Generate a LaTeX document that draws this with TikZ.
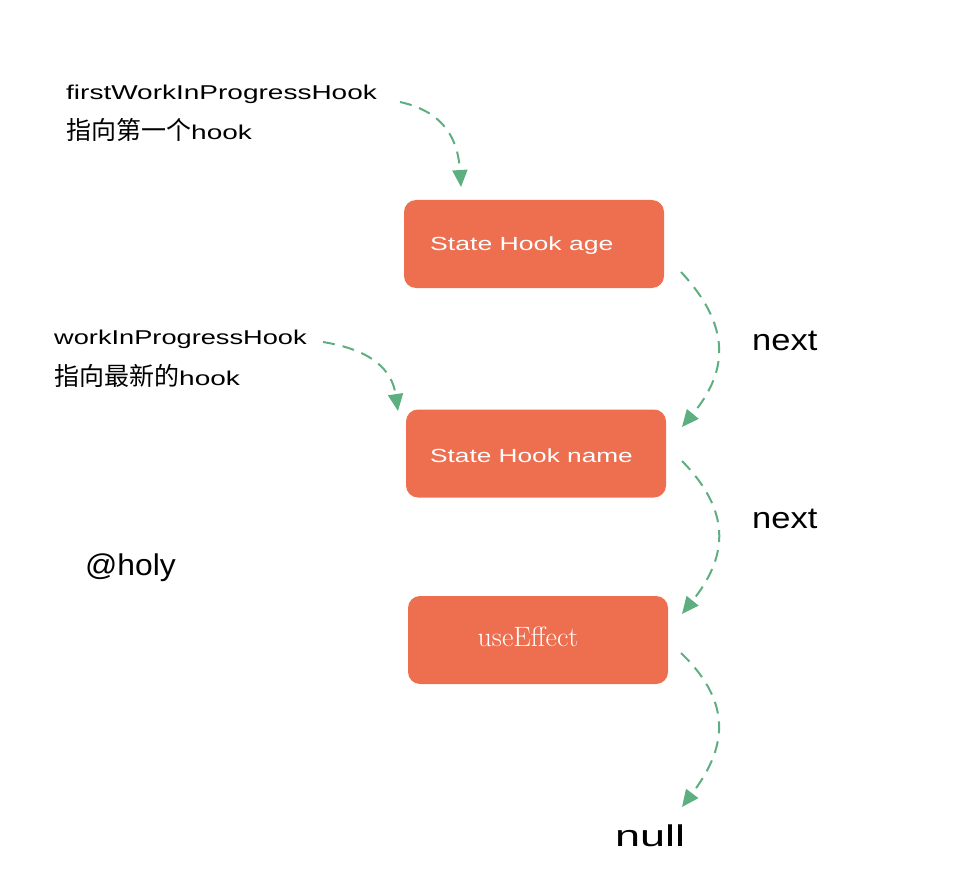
\documentclass[tikz,border=0pt]{standalone}
\usepackage{graphicx}
\usepackage{fontspec}
\setsansfont{Liberation Sans}
\newfontfamily\cjk{Noto Sans CJK SC}
\usetikzlibrary{arrows.meta}
\definecolor{boxred}{HTML}{EE6E50}
\definecolor{arrgreen}{HTML}{5DAF80}
\tikzset{
  hookbox/.style={fill=boxred, rounded corners=12pt, minimum width=260pt, minimum height=88pt, inner sep=0pt},
  link/.style={draw=arrgreen, line width=2pt, dash pattern=on 12pt off 8pt, -{Triangle[length=17pt,width=15pt,fill=arrgreen]}},
  hand/.style={font=\sffamily\fontsize{20}{22}\selectfont, text=black, inner sep=0pt, anchor=base west},
  big/.style={font=\sffamily\fontsize{30}{32}\selectfont, text=black, inner sep=0pt, anchor=base west},
  boxtext/.style={font=\sffamily\fontsize{19}{22}\selectfont, text=white, inner sep=0pt, anchor=base west}
}
\newcommand{\wide}[2]{\scalebox{#1}[1]{#2}}
\begin{document}
\begin{tikzpicture}[x=1pt,y=-1pt]
\useasboundingbox (0,0) rectangle (964,896);
% boxes
\node[hookbox] (b1) at (534,244) {};
\node[hookbox] (b2) at (536,453.5) {};
\node[hookbox] (b3) at (538,640) {};
\node[boxtext] (t1) at (430,251) {\wide{1.4}{State Hook age}};
\node[boxtext] (t2) at (430,462) {\wide{1.38}{State Hook name}};
\node[font=\fontsize{28}{30}\selectfont, text=white, inner sep=0pt, anchor=base] (t3) at (528,646) {useEffect};
% labels
\node[hand] (l1) at (66,100) {\wide{1.4}{firstWorkInProgressHook}};
\node[hand] (l1b) at (66,140) {{\cjk\fontsize{25}{28}\selectfont 指向第一个}\wide{1.4}{hook}};
\node[hand] (l2) at (54,344) {\wide{1.36}{workInProgressHook}};
\node[hand] (l2b) at (54,385) {{\cjk\fontsize{25}{28}\selectfont 指向最新的}\wide{1.4}{hook}};
\node[big] (holy) at (85,575) {\wide{1.06}{@holy}};
\node[big] (n1) at (752,350) {\wide{1.15}{next}};
\node[big] (n2) at (752,528) {\wide{1.15}{next}};
\node[big] (null) at (615,846) {\wide{1.5}{null}};
% connector anchors
\coordinate (a1s) at (400,102);
\coordinate (a1e) at (461,187);
\coordinate (a2s) at (323,342);
\coordinate (a2e) at (398,411);
\coordinate (a3s) at (681,272);
\coordinate (a3e) at (682,427);
\coordinate (a4s) at (682,461);
\coordinate (a4e) at (682,614);
\coordinate (a5s) at (681,653);
\coordinate (a5e) at (682,807);
\draw[link] (a1s) .. controls (445,112) and (458,140) .. (a1e);
\draw[link] (a2s) .. controls (372,350) and (392,370) .. (a2e);
\draw[link] (a3s) .. controls (735,330) and (725,375) .. (a3e);
\draw[link] (a4s) .. controls (735,515) and (725,560) .. (a4e);
\draw[link] (a5s) .. controls (735,705) and (725,750) .. (a5e);
\end{tikzpicture}
\end{document}
